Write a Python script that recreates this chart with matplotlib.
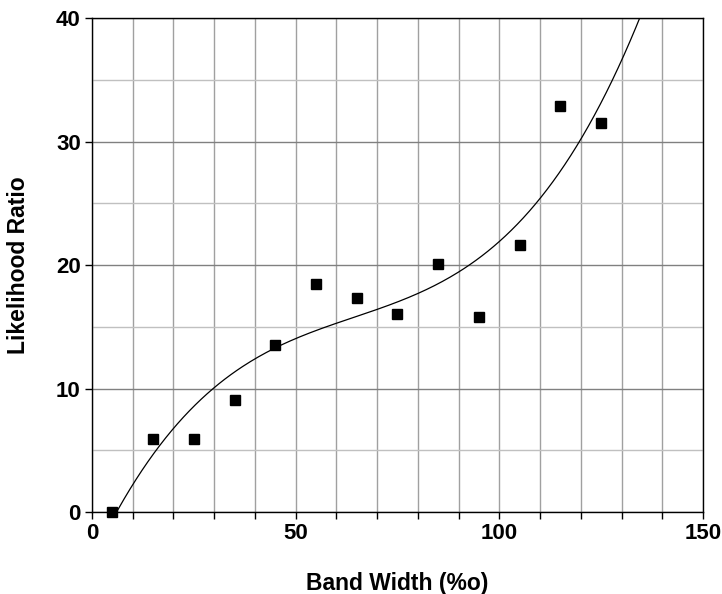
import numpy as np
import matplotlib.pyplot as plt
import matplotlib.ticker as ticker

band_width = [5, 15, 25, 35, 45, 55, 65, 75, 85, 95, 105, 115, 125]
likelihood = [0.0, 5.9, 5.9, 9.1, 13.5, 18.5, 17.3, 16.0, 20.1, 15.8, 21.6, 32.9, 31.5]

plt.rcParams['font.family'] = ['Liberation Sans', 'DejaVu Sans']
plt.rcParams['font.weight'] = 'bold'

fig = plt.figure(figsize=(7.22, 5.94), dpi=100)
ax = fig.add_axes([0.1274, 0.138, 0.8463, 0.8317])

# cubic trendline through the points
coef = np.polyfit(band_width, likelihood, 3)
xs = np.linspace(5, 150, 300)
ax.plot(xs, np.polyval(coef, xs), color='black', lw=0.9, zorder=3)
ax.plot(band_width, likelihood, 's', color='black', ms=7, zorder=4, clip_on=False)

ax.set_xlim(0, 150)
ax.set_ylim(0, 40)
ax.xaxis.set_major_locator(ticker.MultipleLocator(50))
ax.xaxis.set_minor_locator(ticker.MultipleLocator(10))
ax.yaxis.set_major_locator(ticker.MultipleLocator(10))
ax.yaxis.set_minor_locator(ticker.MultipleLocator(5))
ax.grid(which='major', axis='y', color='#808080', lw=1.0)
ax.grid(which='minor', axis='y', color='#c0c0c0', lw=1.0)
ax.grid(which='both', axis='x', color='#a0a0a0', lw=1.0)
ax.set_axisbelow(True)
for s in ax.spines.values():
    s.set_linewidth(1.0)
ax.tick_params(axis='both', which='major', direction='out', length=5, width=1, labelsize=16, pad=3)
ax.tick_params(axis='x', which='minor', direction='out', length=5, width=1)
ax.tick_params(axis='y', which='minor', length=0)
ax.set_xlabel('Band Width (%o)', fontsize=16.5, fontweight='bold', labelpad=20)
ax.set_ylabel('Likelihood Ratio', fontsize=16.5, fontweight='bold', labelpad=19)

fig.savefig('out.png', dpi=100)
